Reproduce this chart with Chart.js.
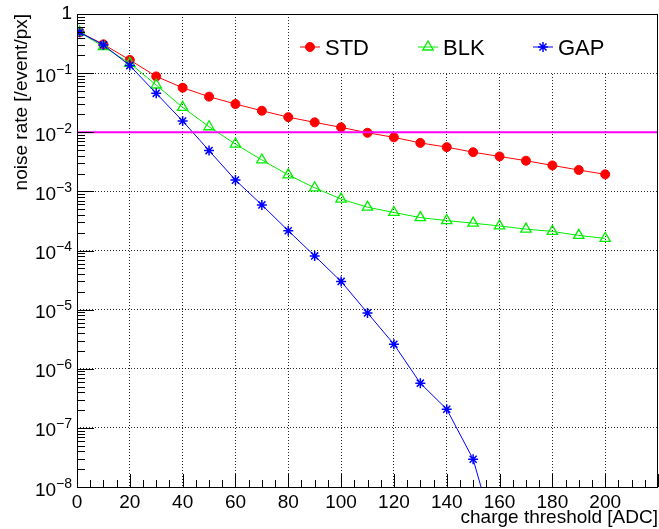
<!DOCTYPE html>
<html>
<head>
<meta charset="utf-8">
<script src="https://cdn.jsdelivr.net/npm/chart.js@4.4.0/dist/chart.umd.min.js"></script>
<style>
  html, body { margin: 0; padding: 0; background: #fff; }
  canvas { display: block; }
</style>
</head>
<body>
<canvas id="c" width="659" height="529"></canvas>
<script>
// ---- data ----
const thresholds = [1, 10, 20, 30, 40, 50, 60, 70, 80, 90, 100, 110, 120, 130, 140, 150, 160, 170, 180, 190, 200];
const stdRate = [0.49, 0.307, 0.167, 0.088, 0.0566, 0.040, 0.030, 0.0231, 0.0180, 0.0147, 0.0121, 0.0098, 0.0082, 0.0066, 0.0056, 0.0046, 0.0039, 0.0033, 0.00275, 0.0023, 0.00194];
const blkRate = [0.49, 0.28, 0.147, 0.063, 0.0264, 0.0124, 0.0063, 0.0034, 0.0019, 0.00115, 0.00074, 0.00054, 0.00044, 0.00036, 0.00032, 0.00029, 0.00026, 0.00023, 0.00021, 0.00018, 0.00016];
const gapThresholds = [1, 10, 20, 30, 40, 50, 60, 70, 80, 90, 100, 110, 120, 130, 140, 150, 160];
const gapRate = [0.49, 0.30, 0.134, 0.0455, 0.0155, 0.0049, 0.00155, 0.00059, 0.000216, 0.000081, 0.000030, 0.0000088, 0.0000026, 0.00000057, 0.000000207, 0.0000000295, 0.0000000008];
const limitX = [0, 220];
const limitRate = [0.01, 0.01];
const xTicks = [0, 20, 40, 60, 80, 100, 120, 140, 160, 180, 200];
const yDecades = [1, 1e-1, 1e-2, 1e-3, 1e-4, 1e-5, 1e-6, 1e-7, 1e-8];
const seriesNames = ['STD', 'BLK', 'GAP'];
const xTitle = 'charge threshold [ADC]';
const yTitle = 'noise rate [/event/px]';

const FONT = "'Liberation Sans', Arial, Helvetica, sans-serif";
const pts = (xs, ys) => xs.map((x, i) => ({x: x, y: ys[i]}));

const rootFrame = {
  id: 'rootFrame',
  beforeDatasetsDraw(chart) {
    const {ctx, chartArea: a, scales: {y}} = chart;
    // legend box (white, over the grid)
    const boxLeft = 291, boxBottom = y.getPixelForValue(0.1);
    ctx.save();
    ctx.fillStyle = '#fff';
    ctx.fillRect(boxLeft, a.top + 1, a.right - boxLeft - 1, boxBottom - a.top - 1);
    const entries = [
      {ds: chart.data.datasets[3], x: 310},
      {ds: chart.data.datasets[2], x: 428},
      {ds: chart.data.datasets[1], x: 543}
    ];
    const ly = 47;
    entries.forEach(e => {
      const ds = e.ds;
      ctx.strokeStyle = ds.borderColor;
      ctx.lineWidth = 1;
      ctx.beginPath();
      ctx.moveTo(e.x - 10, ly); ctx.lineTo(e.x + 10, ly);
      ctx.stroke();
      ctx.fillStyle = ds.pointBackgroundColor;
      ctx.strokeStyle = ds.pointBorderColor;
      ctx.lineWidth = ds.pointBorderWidth;
      Chart.helpers.drawPoint(ctx, {pointStyle: ds.pointStyle, radius: ds.pointRadius, borderWidth: ds.pointBorderWidth, rotation: 0}, e.x, ly);
      ctx.fillStyle = '#000';
      ctx.font = '22px ' + FONT;
      ctx.textAlign = 'left';
      ctx.textBaseline = 'alphabetic';
      ctx.fillText(ds.label, e.x + 15, 55);
    });
    ctx.restore();
  },
  afterDraw(chart) {
    const {ctx, chartArea: a, scales: {x, y}} = chart;
    ctx.save();
    ctx.strokeStyle = '#000';
    ctx.lineWidth = 1;
    // frame
    ctx.strokeRect(Math.round(a.left) + 0.5, Math.round(a.top) + 0.5, Math.round(a.right - a.left) - 1, Math.round(a.bottom - a.top));
    ctx.beginPath();
    // y ticks (log)
    for (let e = 0; e >= -8; e--) {
      const base = Math.pow(10, e);
      const py = Math.round(y.getPixelForValue(base)) + 0.5;
      ctx.moveTo(a.left, py); ctx.lineTo(a.left + 17, py);
      if (e > -8) {
        for (let m = 2; m <= 9; m++) {
          const v = base * m / 10;
          const pm = Math.round(y.getPixelForValue(v)) + 0.5;
          ctx.moveTo(a.left, pm); ctx.lineTo(a.left + 8, pm);
        }
      }
    }
    // x ticks
    for (let v = 0; v <= 220; v += 5) {
      const px = Math.round(x.getPixelForValue(v)) + 0.5;
      const len = (v % 20 === 0) ? 13 : 7;
      ctx.moveTo(px, a.bottom); ctx.lineTo(px, a.bottom - len);
    }
    ctx.stroke();
    // y tick labels with superscripts
    ctx.fillStyle = '#000';
    ctx.textBaseline = 'alphabetic';
    yDecades.forEach(v => {
      const py = y.getPixelForValue(v);
      const e = Math.round(Math.log10(v));
      const rightX = 72;
      if (e === 0) {
        ctx.font = '19px ' + FONT;
        ctx.textAlign = 'right';
        ctx.fillText('1', rightX, py + 5);
      } else {
        const sup = '\u2212' + String(-e);
        ctx.font = '14px ' + FONT;
        const sw = ctx.measureText(sup).width;
        ctx.textAlign = 'left';
        ctx.fillText(sup, rightX - sw, py + 0.5);
        ctx.font = '19px ' + FONT;
        ctx.textAlign = 'right';
        ctx.fillText('10', rightX - sw, py + 8.5);
      }
    });
    ctx.restore();
  }
};

new Chart(document.getElementById('c'), {
  type: 'line',
  data: {
    datasets: [
      {
        label: 'limit', data: pts(limitX, limitRate),
        borderColor: '#ff00ff', borderWidth: 2, pointRadius: 0, fill: false
      },
      {
        label: seriesNames[2], data: pts(gapThresholds, gapRate),
        borderColor: '#0000ff', borderWidth: 1,
        pointStyle: 'star', pointRadius: 5, pointBorderWidth: 1.5,
        pointBorderColor: '#0000ff', pointBackgroundColor: '#0000ff', fill: false
      },
      {
        label: seriesNames[1], data: pts(thresholds, blkRate),
        borderColor: '#00ee00', borderWidth: 1,
        pointStyle: 'triangle', pointRadius: 6, pointBorderWidth: 1.3,
        pointBorderColor: '#00ee00', pointBackgroundColor: 'rgba(0,0,0,0)', fill: false
      },
      {
        label: seriesNames[0], data: pts(thresholds, stdRate),
        borderColor: '#ff0000', borderWidth: 1,
        pointStyle: 'circle', pointRadius: 4.5, pointBorderWidth: 1,
        pointBorderColor: '#ff0000', pointBackgroundColor: '#ff0000', fill: false
      }
    ]
  },
  options: {
    responsive: false,
    devicePixelRatio: 1,
    animation: false,
    events: [],
    layout: {autoPadding: false, padding: {top: 14, right: 1, bottom: 0, left: 0}},
    elements: {line: {tension: 0}},
    plugins: {legend: {display: false}, tooltip: {enabled: false}},
    scales: {
      x: {
        type: 'linear', min: 0, max: 220,
        afterBuildTicks: s => { s.ticks = xTicks.map(v => ({value: v})); },
        afterFit: s => { s.height = 42; s.paddingLeft = 0; s.paddingRight = 0; },
        grid: {color: 'rgba(0,0,0,0.85)', lineWidth: 1, drawTicks: false},
        border: {display: false, dash: [1, 2]},
        ticks: {color: '#000', font: {family: FONT, size: 19}, padding: 4, maxRotation: 0, autoSkip: false},
        title: {display: true, text: xTitle, align: 'end', color: '#000', font: {family: FONT, size: 19}, padding: {top: 0, bottom: 0}}
      },
      y: {
        type: 'logarithmic', min: 1e-8, max: 1,
        afterBuildTicks: s => { s.ticks = yDecades.slice().reverse().map(v => ({value: v, major: true})); },
        afterFit: s => { s.width = 77; },
        grid: {color: 'rgba(0,0,0,0.85)', lineWidth: 1, drawTicks: false},
        border: {display: false, dash: [1, 2]},
        ticks: {display: false},
        title: {display: true, text: yTitle, align: 'end', color: '#000', font: {family: FONT, size: 19}, padding: {top: 10, bottom: 0}}
      }
    }
  },
  plugins: [rootFrame]
});
</script>
</body>
</html>
